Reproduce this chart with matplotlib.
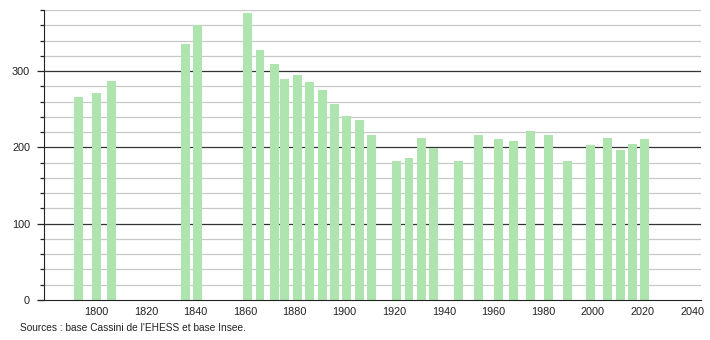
import matplotlib.pyplot as plt
from matplotlib.ticker import MultipleLocator

# Années des recensements et population
years = [1793, 1800, 1806, 1836, 1841, 1861, 1866, 1872, 1876, 1881, 1886,
         1891, 1896, 1901, 1906, 1911, 1921, 1926, 1931, 1936, 1946, 1954,
         1962, 1968, 1975, 1982, 1990, 1999, 2006, 2011, 2016, 2021]
population = [266, 271, 287, 335, 361, 376, 328, 309, 290, 295, 286,
              275, 257, 241, 236, 216, 182, 186, 212, 199, 182, 216,
              211, 209, 222, 216, 182, 203, 212, 196, 204, 211]
x_ticks = list(range(1800, 2041, 20))
y_ticks = [0, 100, 200, 300]
source = "Sources : base Cassini de l'EHESS et base Insee."

plt.rcParams['font.family'] = ['Liberation Sans', 'DejaVu Sans']

fig = plt.figure(figsize=(7.1, 3.4), dpi=100)
ax = fig.add_axes([44 / 710, 40 / 340, 657 / 710, 290 / 340])

# Grille : fine tous les 20, foncée tous les 100
for v in range(20, 381, 20):
    if v % 100 == 0:
        ax.axhline(v, color='#333333', lw=0.9, zorder=1)
    else:
        ax.axhline(v, color='#c8c8c8', lw=0.9, zorder=1)

ax.bar(years, population, width=3.6, color='#aee5ae', zorder=2)

ax.set_xlim(1779, 2043.6)
ax.set_ylim(0, 380)
ax.set_xticks(x_ticks)
ax.set_yticks(y_ticks)
ax.yaxis.set_minor_locator(MultipleLocator(20))
ax.tick_params(axis='x', length=0, labelsize=7.8, pad=5, colors='#222222')
ax.tick_params(axis='y', which='major', length=5, width=0.9, labelsize=7.8,
               pad=5, colors='#222222')
ax.tick_params(axis='y', which='minor', length=3, width=0.9, color='#222222')

for side in ['top', 'right']:
    ax.spines[side].set_visible(False)
ax.spines['left'].set_color('#222222')
ax.spines['bottom'].set_color('#222222')
ax.spines['bottom'].set_bounds(1776.5, 2043.6)

fig.text(20 / 710, 1 - 328 / 340, source, fontsize=7.3, color='#222222',
         va='center')

fig.savefig('out.png', dpi=100)
